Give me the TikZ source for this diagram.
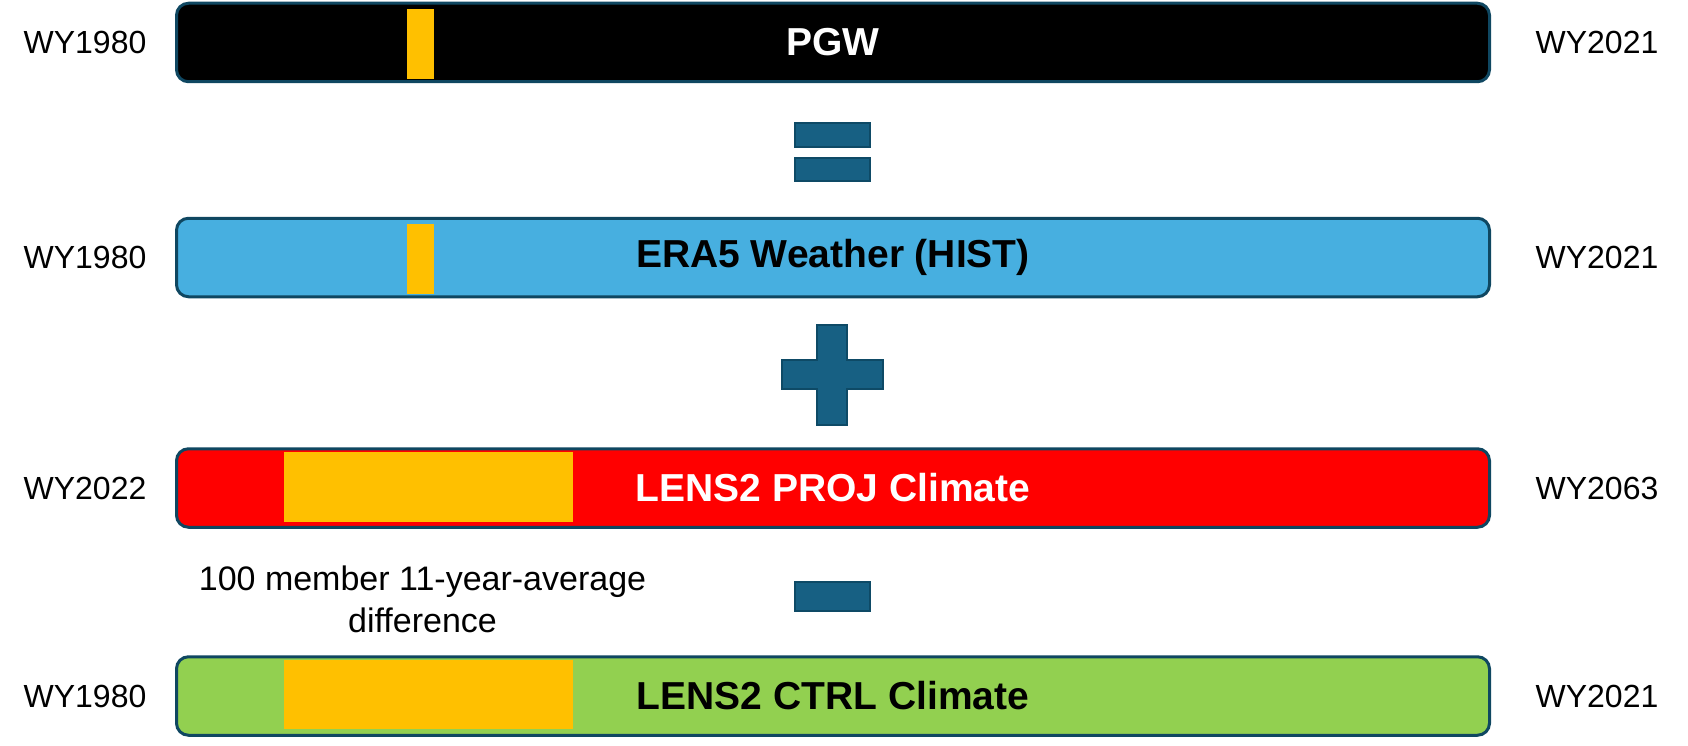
\documentclass[tikz,border=0pt]{standalone}
\usepackage{fontspec}
\setmainfont{Liberation Sans}
\definecolor{edge}{HTML}{0F4761}
\definecolor{symfill}{HTML}{176083}
\definecolor{symedge}{HTML}{0E4A66}
\definecolor{barblue}{HTML}{47AFE0}
\definecolor{bargreen}{HTML}{92D050}
\definecolor{barred}{HTML}{FF0000}
\definecolor{barorange}{HTML}{FFC000}
\begin{document}
\begin{tikzpicture}[x=1pt,y=-1pt,
  bar/.style={draw=edge, line width=3pt, rounded corners=12pt, minimum width=1313pt,
    minimum height=78.5pt, inner sep=0pt, font=\fontsize{39}{47}\selectfont\bfseries},
  hilite/.style={fill=barorange, draw=none, inner sep=0pt},
  yearlab/.style={inner sep=0pt, font=\fontsize{32}{38}\selectfont},
  notelab/.style={inner sep=0pt, anchor=base, font=\fontsize{34}{42}\selectfont},
  sym/.style={fill=symfill, draw=symedge, line width=2pt}]
\useasboundingbox (0,0) rectangle (1688,746);

% bars
\node[bar, fill=black, text=white] (pgw) at (833,42.5) {PGW};
\node[bar, fill=barblue, text=black] (era) at (833,257.5) {ERA5 Weather (HIST)};
\node[bar, fill=barred, text=white] (proj) at (833,488) {LENS2 PROJ Climate};
\node[bar, fill=bargreen, text=black] (ctrl) at (833,696) {LENS2 CTRL Climate};

% highlighted windows
\node[hilite, minimum width=27pt, minimum height=70pt] (o1) at (420.5,44) {};
\node[hilite, minimum width=27pt, minimum height=70pt] (o2) at (420.5,259) {};
\node[hilite, minimum width=289pt, minimum height=70pt] (o3) at (428.5,487) {};
\node[hilite, minimum width=289pt, minimum height=69pt] (o4) at (428.5,694.5) {};

% year labels
\node[yearlab] (l1) at (85,42.5) {WY1980};
\node[yearlab] (r1) at (1597,42.5) {WY2021};
\node[yearlab] (l2) at (85,257.5) {WY1980};
\node[yearlab] (r2) at (1597,257.5) {WY2021};
\node[yearlab] (l3) at (85,488) {WY2022};
\node[yearlab] (r3) at (1597,488) {WY2063};
\node[yearlab] (l4) at (85,696) {WY1980};
\node[yearlab] (r4) at (1597,696) {WY2021};

% note
\node[notelab] (note1) at (422.5,590) {100 member 11-year-average};
\node[notelab] (note2) at (422.5,632) {difference};

% operators
\draw[sym] (795,123) rectangle (870,147);
\draw[sym] (795,158) rectangle (870,181);
\draw[sym] (817,325) -- (847,325) -- (847,360) -- (883,360) -- (883,389) -- (847,389)
  -- (847,425) -- (817,425) -- (817,389) -- (782,389) -- (782,360) -- (817,360) -- cycle;
\draw[sym] (795,582) rectangle (870,611);
\end{tikzpicture}
\end{document}
